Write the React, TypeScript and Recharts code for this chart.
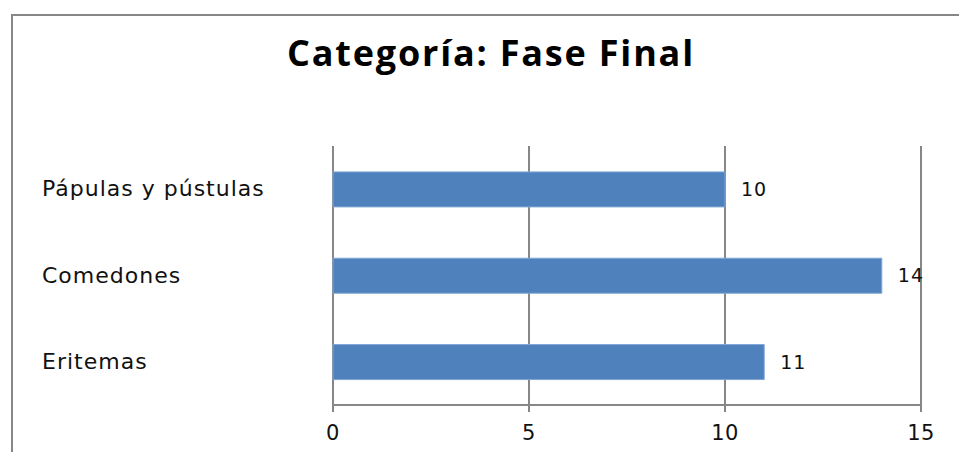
import { BarChart, Bar, XAxis, YAxis, CartesianGrid, LabelList } from "recharts";

const title = "Categoría: Fase Final";
const categories = ["Pápulas y pústulas", "Comedones", "Eritemas"];
const values = [10, 14, 11];
const xTicks = [0, 5, 10, 15];

const data = categories.map((name, i) => ({ name, value: values[i] }));

const GRAY = "#878787";

function CategoryTick({ y, payload }: any) {
  return (
    <text x={42} y={y} dy={7} textAnchor="start" fill="#111" fontSize={22} letterSpacing={1} fontFamily="DejaVu Sans">
      {payload.value}
    </text>
  );
}

function NumberTick({ x, y, payload }: any) {
  return (
    <text x={x} y={y} dy={26} textAnchor="middle" fill="#111" fontSize={21} letterSpacing={0.5} fontFamily="DejaVu Sans">
      {payload.value}
    </text>
  );
}

export default function App() {
  return (
    <div style={{ position: "absolute", left: 0, top: 0, width: 959, height: 452, background: "#fff", overflow: "hidden" }}>
      <div
        style={{
          position: "absolute",
          left: 11,
          top: 14,
          width: 960,
          height: 450,
          borderLeft: `2px solid ${GRAY}`,
          borderTop: `2px solid ${GRAY}`,
        }}
      />
      <div
        style={{
          position: "absolute",
          left: 0,
          width: 982,
          top: 29,
          textAlign: "center",
          fontFamily: "Open Sans",
          fontWeight: 700,
          fontSize: 36,
          letterSpacing: 1.8,
          color: "#000",
          lineHeight: "48px",
        }}
      >
        {title}
      </div>
      <div style={{ position: "absolute", left: 0, top: 0 }}>
        <BarChart
          width={959}
          height={452}
          data={data}
          layout="vertical"
          margin={{ top: 146, right: 38, bottom: 17, left: 0 }}
          barCategoryGap="30%"
        >
          <CartesianGrid horizontal={false} stroke={GRAY} strokeWidth={2} />
          <XAxis
            type="number"
            domain={[0, 15]}
            ticks={xTicks}
            height={30}
            axisLine={{ stroke: GRAY, strokeWidth: 2 }}
            tickLine={{ stroke: GRAY, strokeWidth: 2 }}
            tickSize={7}
            tick={<NumberTick />}
            interval={0}
          />
          <YAxis
            type="category"
            dataKey="name"
            width={333}
            axisLine={false}
            tickLine={false}
            tick={<CategoryTick />}
          />
          <Bar dataKey="value" fill="#4F81BD" stroke="#7FA6D6" strokeWidth={1} isAnimationActive={false}>
            <LabelList dataKey="value" position="right" offset={16} fill="#111" fontSize={19} letterSpacing={1} fontFamily="DejaVu Sans" />
          </Bar>
        </BarChart>
      </div>
    </div>
  );
}
